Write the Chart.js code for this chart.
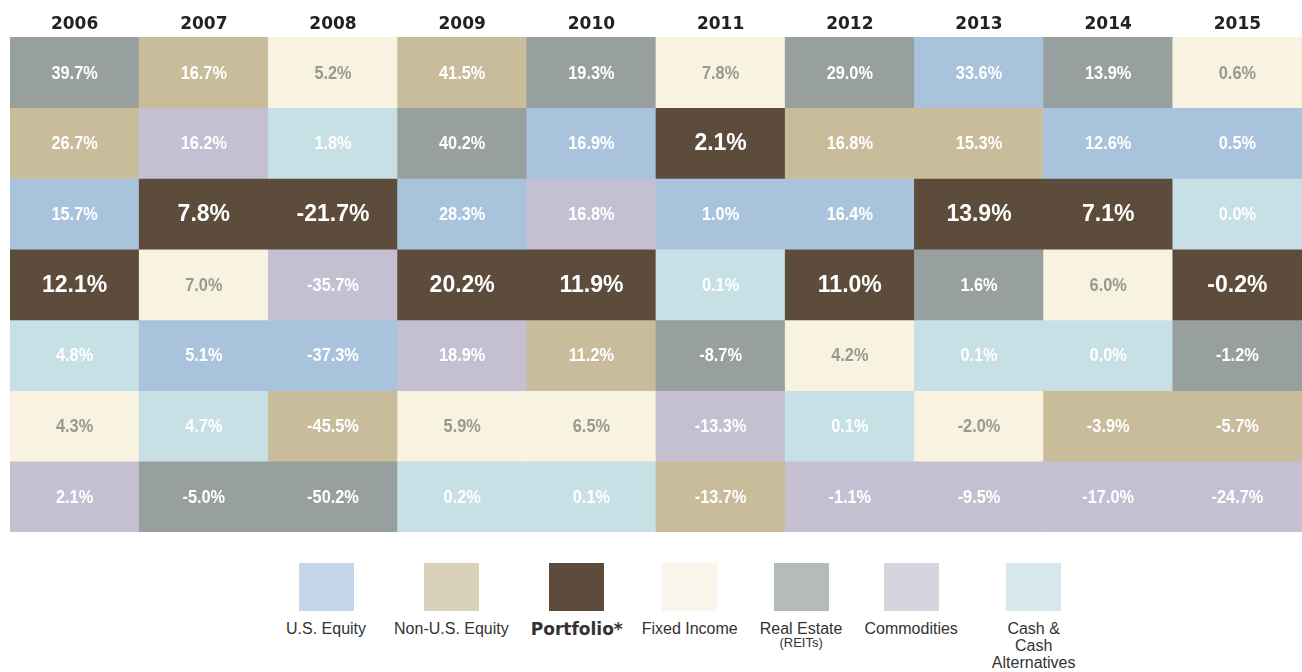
<!DOCTYPE html>
<html>
<head>
<meta charset="utf-8">
<script src="https://cdn.jsdelivr.net/npm/chart.js@4"></script>
<style>
  body { margin: 0; background: #fff; width: 1302px; height: 672px; overflow: hidden; position: relative; }
  #grid { position: absolute; left: 0; top: 0; }
  #legend {
    position: absolute; left: 286px; top: 563px;
    display: flex; gap: 22px; align-items: flex-start;
    font-family: "Liberation Sans", Arial, sans-serif; color: #333;
  }
  .item { display: flex; flex-direction: column; align-items: center; text-align: center; }
  .item:nth-child(2) { margin-left: 6px; }
  .item:nth-child(4) { margin-left: -3px; }
  .item:nth-child(7) { margin-left: 12px; }
  .swatch { width: 55px; height: 48px; margin-bottom: 9px; }
  .label { font-size: 16px; line-height: 17px; }
  .label.bold { font-family: "DejaVu Sans", sans-serif; font-weight: bold; font-size: 17px; line-height: 20px; margin-top: -1px; }
  .label small { display: block; font-size: 13px; line-height: 12px; }
</style>
</head>
<body>
<canvas id="grid" width="1302" height="540"></canvas>
<div id="legend"></div>
<script>
// years across the top
const years = ["2006", "2007", "2008", "2009", "2010", "2011", "2012", "2013", "2014", "2015"];

// asset classes (legend order)
const classKeys = ["us", "intl", "port", "fixed", "reit", "comm", "cash"];
const classNames = ["U.S. Equity", "Non-U.S. Equity", "Portfolio*", "Fixed Income", "Real Estate", "Commodities", "Cash & Cash Alternatives"];

// returns per rank row (best at top), one value per year
const row1Returns = [39.7, 16.7, 5.2, 41.5, 19.3, 7.8, 29.0, 33.6, 13.9, 0.6];
const row2Returns = [26.7, 16.2, 1.8, 40.2, 16.9, 2.1, 16.8, 15.3, 12.6, 0.5];
const row3Returns = [15.7, 7.8, -21.7, 28.3, 16.8, 1.0, 16.4, 13.9, 7.1, 0.0];
const row4Returns = [12.1, 7.0, -35.7, 20.2, 11.9, 0.1, 11.0, 1.6, 6.0, -0.2];
const row5Returns = [4.8, 5.1, -37.3, 18.9, 11.2, -8.7, 4.2, 0.1, 0.0, -1.2];
const row6Returns = [4.3, 4.7, -45.5, 5.9, 6.5, -13.3, 0.1, -2.0, -3.9, -5.7];
const row7Returns = [2.1, -5.0, -50.2, 0.2, 0.1, -13.7, -1.1, -9.5, -17.0, -24.7];

// asset class of each cell, same layout
const row1Classes = ["reit", "intl", "fixed", "intl", "reit", "fixed", "reit", "us", "reit", "fixed"];
const row2Classes = ["intl", "comm", "cash", "reit", "us", "port", "intl", "intl", "us", "us"];
const row3Classes = ["us", "port", "port", "us", "comm", "us", "us", "port", "port", "cash"];
const row4Classes = ["port", "fixed", "comm", "port", "port", "cash", "port", "reit", "fixed", "port"];
const row5Classes = ["cash", "us", "us", "comm", "intl", "reit", "fixed", "cash", "cash", "reit"];
const row6Classes = ["fixed", "cash", "intl", "fixed", "fixed", "comm", "cash", "fixed", "intl", "intl"];
const row7Classes = ["comm", "reit", "reit", "cash", "cash", "intl", "comm", "comm", "comm", "comm"];

const rowReturns = [row1Returns, row2Returns, row3Returns, row4Returns, row5Returns, row6Returns, row7Returns];
const rowClasses = [row1Classes, row2Classes, row3Classes, row4Classes, row5Classes, row6Classes, row7Classes];

const cellColors = {
  us: "#a9c3dc", intl: "#c8bc9a", port: "#5d4b3c", fixed: "#f8f2e0",
  reit: "#97a09e", comm: "#c4c0d1", cash: "#c6e0e5"
};
const swatchColors = {
  us: "#c3d7e8", intl: "#d9d1b9", port: "#5d4b3c", fixed: "#f9f5eb",
  reit: "#b4bbba", comm: "#d6d4df", cash: "#d6e8ec"
};

const datasets = rowReturns.map(function (vals, r) {
  return {
    label: "Rank " + (r + 1),
    data: vals.map(function () { return [r, r + 1]; }),
    returns: vals,
    backgroundColor: rowClasses[r].map(function (c) { return cellColors[c]; }),
    classes: rowClasses[r],
    borderWidth: 0,
    barPercentage: 1,
    categoryPercentage: 1,
  };
});

const cellLabels = {
  id: "cellLabels",
  afterDatasetsDraw: function (chart) {
    const ctx = chart.ctx;
    chart.data.datasets.forEach(function (ds, i) {
      chart.getDatasetMeta(i).data.forEach(function (bar, j) {
        const cls = ds.classes[j];
        const txt = ds.returns[j].toFixed(1) + "%";
        const cy = (bar.y + bar.base) / 2;
        ctx.save();
        ctx.textAlign = "center";
        ctx.textBaseline = "middle";
        ctx.translate(bar.x, cy + 1);
        if (cls === "port") {
          ctx.font = "bold 23px 'Liberation Sans', Arial, sans-serif";
          ctx.fillStyle = "#ffffff";
        } else {
          // narrow bold look, like a condensed grotesque
          ctx.scale(0.86, 1);
          ctx.font = "bold 19px 'Liberation Sans', Arial, sans-serif";
          ctx.fillStyle = cls === "fixed" ? "#9a9890" : "#ffffff";
        }
        ctx.fillText(txt, 0, 0);
        ctx.restore();
      });
    });
  },
};

new Chart(document.getElementById("grid"), {
  type: "bar",
  data: { labels: years, datasets: datasets },
  options: {
    responsive: false,
    animation: false,
    layout: { padding: { left: 10, right: 0, top: 0, bottom: 8 } },
    plugins: { legend: { display: false }, tooltip: { enabled: false } },
    scales: {
      x: {
        position: "top",
        stacked: true,
        grid: { display: false, drawTicks: false },
        border: { display: false },
        ticks: {
          color: "#222",
          padding: 2,
          font: { family: "'DejaVu Sans', sans-serif", weight: "bold", size: 17 },
        },
        afterFit: function (scale) { scale.height = 37; },
      },
      y: { display: false, stacked: false, min: 0, max: 7, reverse: true },
    },
  },
  plugins: [cellLabels],
});

// legend
const legend = document.getElementById("legend");
classKeys.forEach(function (key, i) {
  const item = document.createElement("div");
  item.className = "item";
  const sw = document.createElement("div");
  sw.className = "swatch";
  sw.style.background = swatchColors[key];
  const lab = document.createElement("div");
  lab.className = "label";
  if (key === "port") {
    lab.className += " bold";
    lab.textContent = classNames[i];
  } else if (key === "reit") {
    lab.innerHTML = "Real Estate<small>(REITs)</small>";
  } else if (key === "cash") {
    lab.innerHTML = "Cash &amp;<br>Cash<br>Alternatives";
  } else {
    lab.textContent = classNames[i];
  }
  item.appendChild(sw);
  item.appendChild(lab);
  legend.appendChild(item);
});
</script>
</body>
</html>
